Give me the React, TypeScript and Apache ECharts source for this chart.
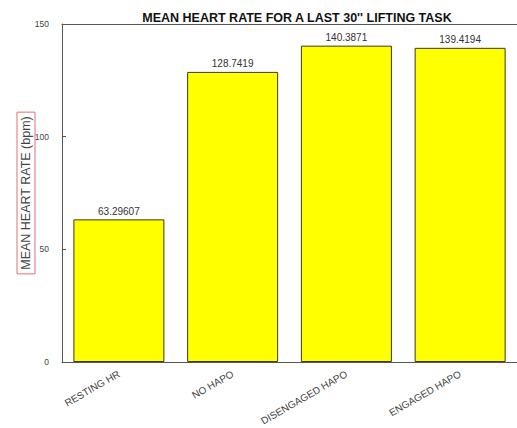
import React, { useEffect, useRef } from "react";
import * as echarts from "echarts";

const categories = ["RESTING HR", "NO HAPO", "DISENGAGED HAPO", "ENGAGED HAPO"];
const values = [63.29607, 128.7419, 140.3871, 139.4194];
const valueLabels = ["63.29607", "128.7419", "140.3871", "139.4194"];
const yTicks = [0, 50, 100, 150];

const FONT = "Liberation Sans, Arial, sans-serif";

export default function App() {
  const ref = useRef<HTMLDivElement>(null);
  useEffect(() => {
    if (!ref.current) return;
    const chart = echarts.init(ref.current, undefined, { renderer: "svg" });
    chart.setOption({
      animation: false,
      backgroundColor: "#ffffff",
      title: {
        text: "MEAN HEART RATE FOR A LAST 30'' LIFTING TASK",
        left: 292,
        textAlign: "center",
        top: 6,
        textStyle: { fontFamily: FONT, fontSize: 12.5, fontWeight: "bold", color: "#111" },
      },
      grid: { left: 62, top: 24, width: 462, height: 338, containLabel: false },
      xAxis: [
        {
          type: "category",
          data: categories,
          position: "bottom",
          axisLine: { lineStyle: { color: "#555", width: 1 } },
          axisTick: { inside: true, alignWithLabel: true, length: 4, lineStyle: { color: "#555" } },
          axisLabel: {
            rotate: 30,
            interval: 0,
            margin: 11,
            fontFamily: FONT,
            fontSize: 10,
            color: "#444",
          },
        },
        {
          type: "category",
          data: categories,
          position: "top",
          axisLine: { lineStyle: { color: "#555", width: 1 } },
          axisTick: { inside: true, alignWithLabel: true, length: 4, lineStyle: { color: "#555" } },
          axisLabel: { show: false },
        },
      ],
      yAxis: {
        type: "value",
        min: 0,
        max: 150,
        interval: 50,
        name: "MEAN HEART RATE (bpm)",
        nameLocation: "middle",
        nameRotate: 90,
        nameGap: 27,
        nameMoveOverlap: false,
        nameTextStyle: {
          fontFamily: FONT,
          fontSize: 12.5,
          lineHeight: 14,
          color: "#444",
          borderColor: "#e07070",
          borderWidth: 1,
          padding: [2, 4, 2, 4],
        },
        axisLine: { show: true, lineStyle: { color: "#555", width: 1 } },
        axisTick: { show: true, inside: true, length: 4, lineStyle: { color: "#555" } },
        splitLine: { show: false },
        axisLabel: {
          fontFamily: FONT,
          fontSize: 8.5,
          color: "#444",
          margin: 13,
          customValues: yTicks,
        },
      },
      series: [
        {
          type: "bar",
          data: values,
          barWidth: "80%",
          itemStyle: { color: "#ffff00", borderColor: "#3a3a1a", borderWidth: 1 },
          label: {
            show: true,
            position: "top",
            distance: 3,
            fontFamily: FONT,
            fontSize: 10,
            color: "#333",
            formatter: (p: any) => valueLabels[p.dataIndex],
          },
        },
      ],
    });
    return () => chart.dispose();
  }, []);
  return <div ref={ref} style={{ width: 517, height: 428, position: "absolute", left: 0, top: 0 }} />;
}
